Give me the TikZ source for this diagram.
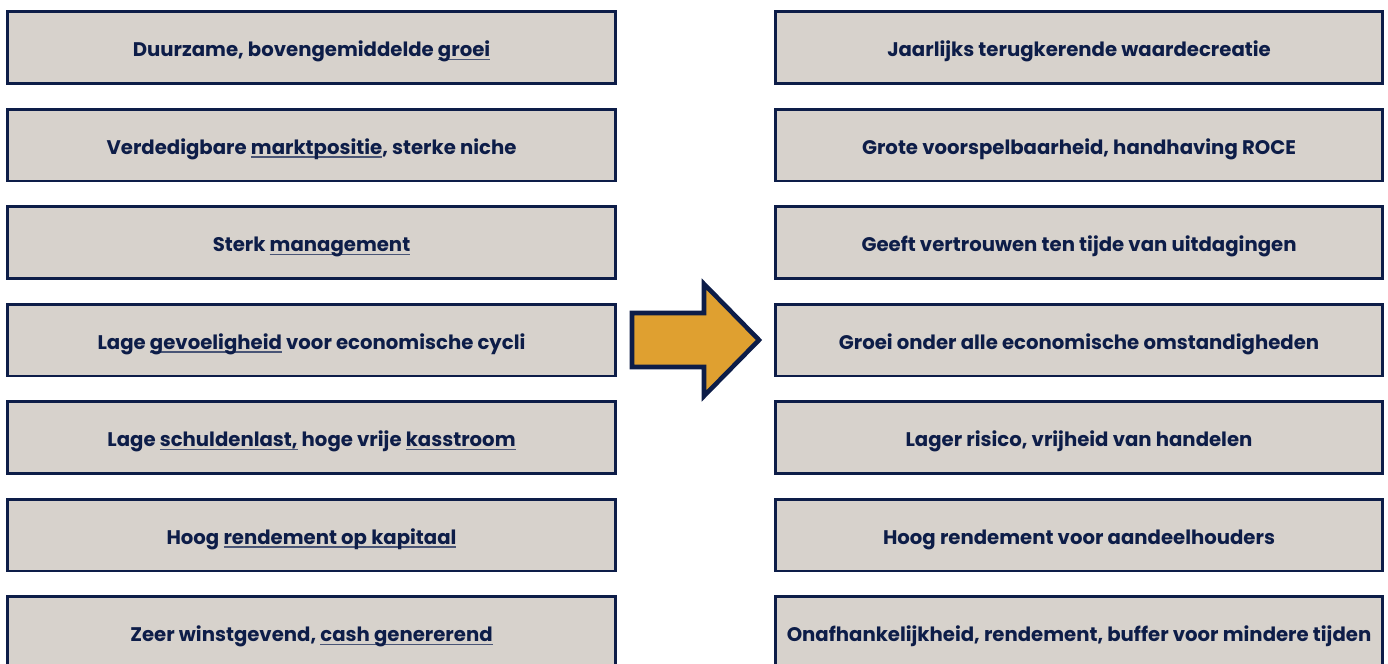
\documentclass[tikz,border=0pt]{standalone}
\usepackage{fontspec}
\setmainfont{Poppins}
\usepackage{xcolor}
\definecolor{deckNavy}{HTML}{0D1D48}
\definecolor{deckSand}{HTML}{D7D2CC}
\definecolor{deckGold}{HTML}{DFA030}
\usetikzlibrary{positioning}
% thin underline just below the baseline
\newcommand{\ulword}[1]{\setbox0\hbox{#1}%
  \rlap{\color{deckNavy!75}\rule[-1.9pt]{\wd0}{0.6pt}}\box0\relax}

\tikzset{
  factbox/.style={draw=deckNavy, fill=deckSand, line width=1.7pt,
    minimum width=12.16cm, minimum height=1.44cm, inner sep=0pt,
    text height=0.468cm, text depth=0.1cm,
    text=deckNavy, font=\fontsize{11.2}{13}\selectfont\bfseries},
}

\begin{document}
\begin{tikzpicture}[x=0.02cm, y=-0.02cm]
\useasboundingbox (0,0) rectangle (1388,663);
\clip (0,0) rectangle (1388,663);
% ---------- left column: company qualities ----------
\foreach \i/\txt in {%
  1/{Duurzame, bovengemiddelde \ulword{groei}},
  2/{Verdedigbare \ulword{marktpositie}, sterke niche},
  3/{Sterk \ulword{management}},
  4/{Lage \ulword{gevoeligheid} voor economische cycli},
  5/{Lage \ulword{schuldenlast,} hoge vrije \ulword{kasstroom}},
  6/{Hoog \ulword{rendement op kapitaal}},
  7/{Zeer winstgevend, \ulword{cash genererend}}} {
  \node[factbox] (L\i) at (311.5,{47.5+97.5*(\i-1)}) {\txt};
}
% ---------- right column: what it brings ----------
\foreach \i/\txt in {%
  1/{Jaarlijks terugkerende waardecreatie},
  2/{Grote voorspelbaarheid, handhaving ROCE},
  3/{Geeft vertrouwen ten tijde van uitdagingen},
  4/{Groei onder alle economische omstandigheden},
  5/{Lager risico, vrijheid van handelen},
  6/{Hoog rendement voor aandeelhouders},
  7/{Onafhankelijkheid, rendement, buffer voor mindere tijden}} {
  \node[factbox] (R\i) at (1079,{47.5+97.5*(\i-1)}) {\txt};
}
% ---------- the big arrow between the columns ----------
\draw[deckNavy, fill=deckGold, line width=2.6pt, line join=miter]
  (632,313) -- (704,313) -- (704,284) -- (759,340) -- (704,396)
  -- (704,367) -- (632,367) -- cycle;
\end{tikzpicture}
\end{document}
